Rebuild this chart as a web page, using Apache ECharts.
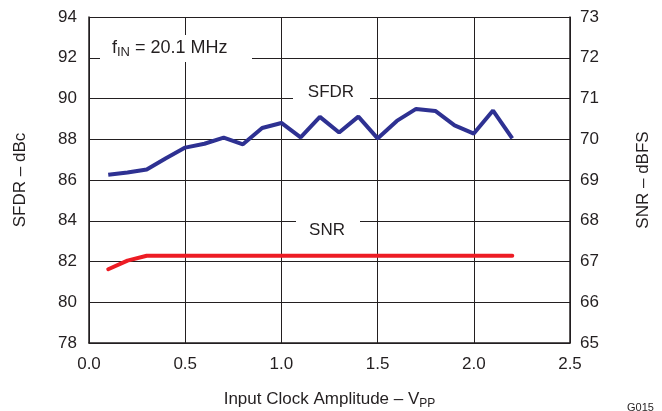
<!DOCTYPE html>
<html>
<head>
<meta charset="utf-8">
<script src="https://cdn.jsdelivr.net/npm/echarts@6/dist/echarts.min.js"></script>
<style>html,body{margin:0;padding:0;background:#fff}#c{width:662px;height:411px}</style>
</head>
<body>
<div id="c"></div>
<script>
// Data
const clockAmplitude = [0.1,0.2,0.3,0.4,0.5,0.6,0.7,0.8,0.9,1.0,1.1,1.2,1.3,1.4,1.5,1.6,1.7,1.8,1.9,2.0,2.1,2.2];
const sfdrValues = [86.26,86.37,86.52,87.07,87.59,87.78,88.08,87.75,88.55,88.80,88.09,89.10,88.33,89.11,88.04,88.90,89.49,89.39,88.68,88.28,89.41,88.04];
const snrValues = [66.81,67.02,67.14,67.14,67.14,67.14,67.14,67.14,67.14,67.14,67.14,67.14,67.14,67.14,67.14,67.14,67.14,67.14,67.14,67.14,67.14,67.14];
const leftTicks = {min: 78, max: 94, interval: 2};
const rightTicks = {min: 65, max: 73, interval: 1};
const xTicks = {min: 0, max: 2.5, interval: 0.5};

const FONT = '"Liberation Sans", Arial, Helvetica, sans-serif';
const TXT = '#231f20';
const chart = echarts.init(document.getElementById('c'), null, {renderer: 'canvas'});

const zip = (xs, ys) => xs.map((x, i) => [x, ys[i]]);

const subRich = {
  m: {fontSize: 17, fontFamily: FONT, color: TXT, lineHeight: 22},
  s: {fontSize: 12, fontFamily: FONT, color: TXT, lineHeight: 22, padding: [9, 0, 0, 0]}
};
const subRichBig = {
  m: {fontSize: 18, fontFamily: FONT, color: TXT, lineHeight: 22},
  s: {fontSize: 13, fontFamily: FONT, color: TXT, lineHeight: 22, padding: [9, 0, 0, 0]}
};

// white boxes hiding the grid behind the in-plot labels
const whiteBox = (x, y, w, h) => ({type: 'rect', z: 40, shape: {x: x, y: y, width: w, height: h}, style: {fill: '#ffffff', stroke: null}});
const plotText = (x, y, text, rich, align) => ({
  type: 'text', z: 45, x: x, y: y,
  style: {text: text, rich: rich, fill: TXT, font: '17px ' + FONT, align: align || 'center', verticalAlign: 'middle'}
});

chart.setOption({
  animation: false,
  backgroundColor: '#fff',
  textStyle: {fontFamily: FONT, color: TXT},
  grid: {left: 89, right: 92, top: 17, bottom: 68, containLabel: false, outerBoundsMode: 'none'},
  xAxis: {
    type: 'value', min: xTicks.min, max: xTicks.max, interval: xTicks.interval,
    name: '{m|Input Clock Amplitude – V}{s|PP}',
    nameLocation: 'middle', nameGap: 45,
    nameTextStyle: {rich: subRich},
    axisLine: {show: true, onZero: false, lineStyle: {color: '#231f20', width: 1.5}},
    axisTick: {show: false},
    axisLabel: {margin: 13, fontSize: 17, color: TXT, fontFamily: FONT, formatter: v => v.toFixed(1)},
    splitLine: {show: true, lineStyle: {color: '#231f20', width: 1}}
  },
  yAxis: [
    {
      type: 'value', min: leftTicks.min, max: leftTicks.max, interval: leftTicks.interval,
      position: 'left',
      name: 'SFDR – dBc', nameLocation: 'middle', nameGap: 60,
      nameTextStyle: {fontSize: 17, color: TXT, fontFamily: FONT},
      axisLine: {show: true, lineStyle: {color: '#231f20', width: 1.5}},
      axisTick: {show: false},
      axisLabel: {margin: 12, fontSize: 17, color: TXT, fontFamily: FONT},
      splitLine: {show: true, lineStyle: {color: '#231f20', width: 1}}
    },
    {
      type: 'value', min: rightTicks.min, max: rightTicks.max, interval: rightTicks.interval,
      position: 'right',
      name: 'SNR – dBFS', nameLocation: 'middle', nameGap: 65,
      nameTextStyle: {fontSize: 17, color: TXT, fontFamily: FONT},
      axisLine: {show: true, lineStyle: {color: '#231f20', width: 1.5}},
      axisTick: {show: false},
      axisLabel: {margin: 10, fontSize: 17, color: TXT, fontFamily: FONT},
      splitLine: {show: false}
    }
  ],
  series: [
    {
      name: 'SFDR', type: 'line', yAxisIndex: 0, data: zip(clockAmplitude, sfdrValues),
      symbol: 'none', lineStyle: {color: '#2e3192', width: 4}, z: 5
    },
    {
      name: 'SNR', type: 'line', yAxisIndex: 1, data: zip(clockAmplitude, snrValues),
      symbol: 'none', lineStyle: {color: '#ed1c24', width: 4, cap: 'round'}, z: 5
    }
  ],
  graphic: [
    whiteBox(100, 35, 152, 27),
    plotText(112, 48, '{m|f}{s|IN}{m| = 20.1 MHz}', subRichBig, 'left'),
    whiteBox(293, 80, 77, 22),
    plotText(331, 92, 'SFDR'),
    whiteBox(296, 216, 64, 24),
    plotText(327, 230, 'SNR'),
    {type: 'text', z: 50, x: 627, y: 402, style: {text: 'G015', font: '11px ' + FONT, fill: TXT}}
  ]
});
</script>
</body>
</html>
